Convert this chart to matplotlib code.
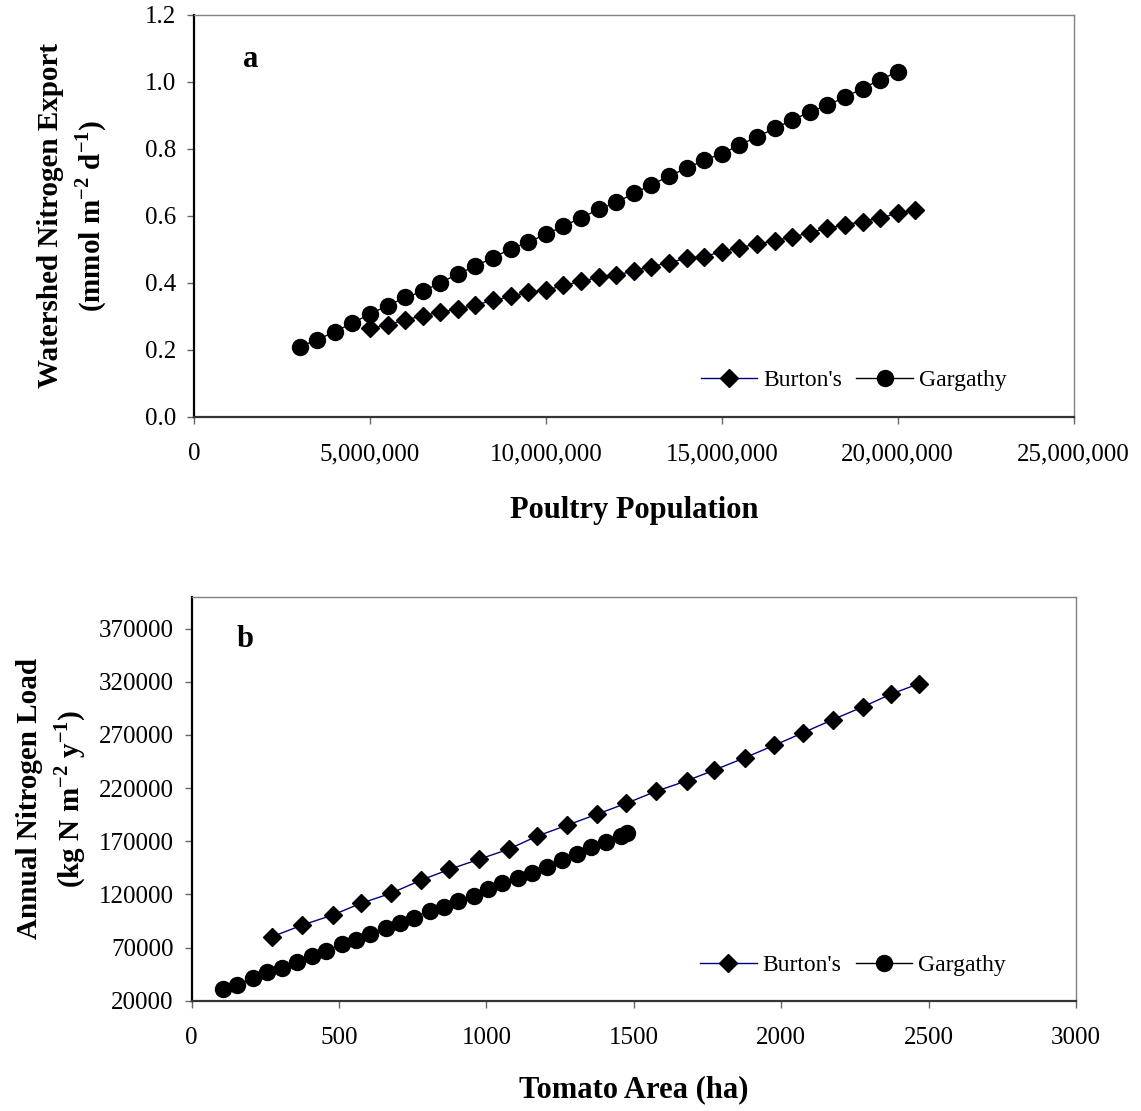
import matplotlib
matplotlib.use("Agg")
import matplotlib.pyplot as plt
from matplotlib.ticker import FuncFormatter, MultipleLocator

plt.rcParams['font.family'] = ['Liberation Serif', 'DejaVu Serif']
plt.rcParams['mathtext.fontset'] = 'custom'
plt.rcParams['mathtext.rm'] = 'Liberation Serif'
plt.rcParams['mathtext.bf'] = 'Liberation Serif:bold'

# panel a : poultry population (millions) vs watershed N export
burton_a_x = [5.0, 5.5, 6.0, 6.5, 7.0, 7.5, 8.0, 8.5, 9.0, 9.5, 10.0, 10.5, 11.0, 11.5,
              12.0, 12.5, 13.0, 13.5, 14.0, 14.5, 15.0, 15.5, 16.0, 16.5, 17.0, 17.5,
              18.0, 18.5, 19.0, 19.5, 20.0, 20.5]
burton_a_y = [0.264, 0.274, 0.289, 0.301, 0.313, 0.321, 0.334, 0.347, 0.359, 0.372, 0.377,
              0.392, 0.404, 0.416, 0.422, 0.436, 0.448, 0.460, 0.473, 0.478, 0.493, 0.505,
              0.515, 0.526, 0.536, 0.550, 0.563, 0.573, 0.583, 0.593, 0.608, 0.618]
garg_a_x = [3.0, 3.5, 4.0, 4.5, 5.0, 5.5, 6.0, 6.5, 7.0, 7.5, 8.0, 8.5, 9.0, 9.5, 10.0,
            10.5, 11.0, 11.5, 12.0, 12.5, 13.0, 13.5, 14.0, 14.5, 15.0, 15.5, 16.0, 16.5,
            17.0, 17.5, 18.0, 18.5, 19.0, 19.5, 20.0]
garg_a_y = [0.209, 0.229, 0.254, 0.279, 0.307, 0.331, 0.356, 0.374, 0.400, 0.426, 0.450,
            0.475, 0.501, 0.521, 0.545, 0.569, 0.594, 0.619, 0.640, 0.667, 0.692, 0.719,
            0.742, 0.766, 0.786, 0.811, 0.836, 0.861, 0.886, 0.910, 0.930, 0.955, 0.980,
            1.007, 1.030]

# panel b : tomato area (ha) vs annual N load
burton_b_x = [273, 375, 478, 573, 675, 778, 874, 974, 1076, 1172, 1274, 1376, 1473, 1574,
              1679, 1772, 1878, 1977, 2073, 2176, 2277, 2372, 2468]
burton_b_y = [80200, 91100, 100500, 111500, 120900, 133400, 143500, 152900, 162600, 174800,
              185100, 195500, 205500, 216800, 226800, 236800, 248700, 260300, 271900,
              284500, 296400, 308300, 318300]
garg_b_x = [105, 155, 209, 257, 305, 358, 409, 454, 509, 556, 605, 659, 706, 755, 808, 857,
            904, 957, 1006, 1053, 1108, 1155, 1204, 1258, 1306, 1354, 1407, 1456, 1478]
garg_b_y = [31000, 34700, 41000, 46600, 50400, 56700, 62300, 66700, 73000, 77000, 82700,
            88000, 92700, 98000, 104600, 108400, 114000, 118400, 124700, 130300, 135000,
            139700, 146000, 152200, 157600, 164100, 169500, 174800, 178200]

fig = plt.figure(figsize=(11.41, 11.11), dpi=100)
ax1 = fig.add_axes([0.170, 0.625, 0.771, 0.3615])
ax2 = fig.add_axes([0.168, 0.0993, 0.775, 0.3636])


def style_axes(ax):
    ax.spines['left'].set_color('black')
    ax.spines['left'].set_linewidth(1.6)
    ax.spines['bottom'].set_color('#333333')
    ax.spines['bottom'].set_linewidth(1.6)
    ax.spines['top'].set_color('#808080')
    ax.spines['right'].set_color('#808080')
    ax.spines['top'].set_linewidth(1.0)
    ax.spines['right'].set_linewidth(1.0)
    ax.tick_params(axis='both', direction='out', length=5, width=1, color='#666666',
                   labelsize=18)
    ax.tick_params(axis='y', pad=8)
    ax.tick_params(axis='x', pad=14)


# ---- panel a
ax1.plot([v * 1e6 for v in burton_a_x], burton_a_y, color='#000080', lw=1,
         marker='D', ms=9, mfc='black', mec='black', label="Burton's")
ax1.plot([v * 1e6 for v in garg_a_x], garg_a_y, color='black', lw=1,
         marker='o', ms=11.5, mfc='black', mec='black', label='Gargathy')
ax1.set_xlim(0, 25e6)
ax1.set_ylim(0, 1.2)
ax1.xaxis.set_major_locator(MultipleLocator(5e6))
ax1.yaxis.set_major_locator(MultipleLocator(0.2))
ax1.xaxis.set_major_formatter(FuncFormatter(lambda v, p: f"{int(v):,}"))
ax1.yaxis.set_major_formatter(FuncFormatter(lambda v, p: f"{v:.1f}"))
style_axes(ax1)
ax1.set_xlabel('Poultry Population', fontsize=22, fontweight='bold', labelpad=22)
ax1.set_ylabel('Watershed Nitrogen Export\n(mmol m$^{\\mathbf{-2}}$ d$^{\\mathbf{-1}}$)',
               fontsize=21, fontweight='bold', labelpad=26, linespacing=1.35)
ax1.text(0.064, 0.888, 'a', transform=ax1.transAxes, fontsize=22, fontweight='bold',
         va='center', ha='center')
ax1.legend(loc='center left', bbox_to_anchor=(0.576, 0.091), ncol=2, frameon=False,
           fontsize=17, handlelength=2.4, handletextpad=0.25, columnspacing=0.6,
           borderaxespad=0, borderpad=0)

# ---- panel b
ax2.plot(burton_b_x, burton_b_y, color='#000080', lw=1,
         marker='D', ms=9, mfc='black', mec='black', label="Burton's")
ax2.plot(garg_b_x, garg_b_y, color='black', lw=1,
         marker='o', ms=11.5, mfc='black', mec='black', label='Gargathy')
ax2.set_xlim(0, 3000)
ax2.set_ylim(20000, 400000)
ax2.xaxis.set_major_locator(MultipleLocator(500))
ax2.set_yticks([20000, 70000, 120000, 170000, 220000, 270000, 320000, 370000])
ax2.yaxis.set_major_formatter(FuncFormatter(lambda v, p: f"{int(v)}"))
style_axes(ax2)
ax2.set_xlabel('Tomato Area (ha)', fontsize=22, fontweight='bold', labelpad=19)
ax2.set_ylabel('Annual Nitrogen Load\n(kg N m$^{\\mathbf{-2}}$ y$^{\\mathbf{-1}}$)',
               fontsize=21, fontweight='bold', labelpad=8, linespacing=1.35)
ax2.text(0.06, 0.893, 'b', transform=ax2.transAxes, fontsize=22, fontweight='bold',
         va='center', ha='center')
ax2.legend(loc='center left', bbox_to_anchor=(0.575, 0.088), ncol=2, frameon=False,
           fontsize=17, handlelength=2.4, handletextpad=0.25, columnspacing=0.6,
           borderaxespad=0, borderpad=0)

fig.savefig('out.png', dpi=100)
